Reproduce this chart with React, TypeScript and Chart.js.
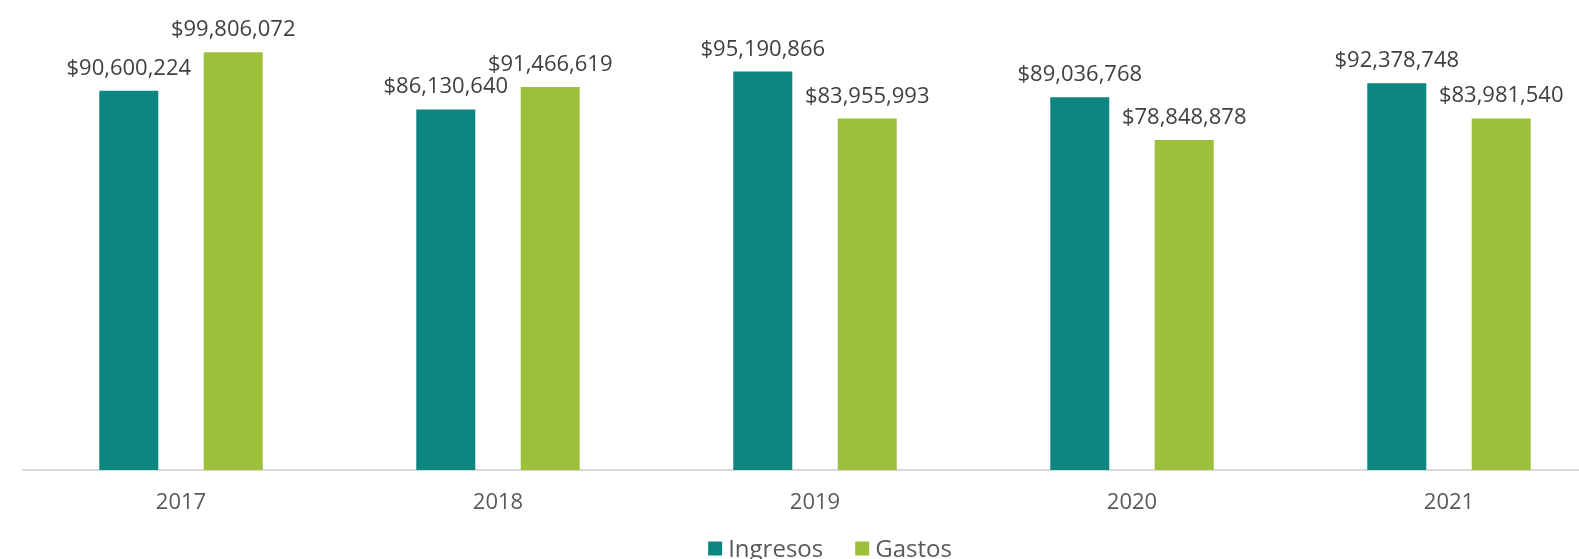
import React, { useEffect, useRef } from "react";
import { Chart, registerables } from "chart.js";

Chart.register(...registerables);

const categories = ["2017", "2018", "2019", "2020", "2021"];
const ingresos = [90600224, 86130640, 95190866, 89036768, 92378748];
const gastos = [99806072, 91466619, 83955993, 78848878, 83981540];
const seriesNames = ["Ingresos", "Gastos"];
const seriesColors = ["#0D8682", "#9CC03A"];

const FONT = "'Open Sans', 'DejaVu Sans', sans-serif";
const CW = 1660;
const CH = 580;

const fmt = (v: number) => "$" + v.toLocaleString("en-US");

const dataLabelPlugin = {
  id: "dataLabels",
  afterDatasetsDraw(chart: any) {
    const ctx = chart.ctx;
    ctx.save();
    ctx.font = `400 22px ${FONT}`;
    ctx.fillStyle = "#404040";
    ctx.textAlign = "center";
    ctx.textBaseline = "alphabetic";
    chart.data.datasets.forEach((ds: any, di: number) => {
      const meta = chart.getDatasetMeta(di);
      meta.data.forEach((bar: any, i: number) => {
        ctx.fillText(fmt(ds.data[i]), bar.x, bar.y - 16);
      });
    });
    ctx.restore();
  },
};

const legendPlugin = {
  id: "customLegend",
  afterDraw(chart: any) {
    const ctx = chart.ctx;
    ctx.save();
    ctx.font = `400 24px ${FONT}`;
    const box = 14;
    const gap = 6;
    const between = 32;
    const items = chart.data.datasets.map((ds: any) => ({
      label: ds.label,
      color: ds.backgroundColor,
      w: ctx.measureText(ds.label).width,
    }));
    let total = 0;
    items.forEach((it: any, i: number) => {
      total += box + gap + it.w + (i < items.length - 1 ? between : 0);
    });
    let x = chart.width / 2 - total / 2;
    const boxTop = 541.5;
    const baseline = 557;
    items.forEach((it: any) => {
      ctx.fillStyle = it.color;
      ctx.fillRect(x, boxTop, box, box);
      ctx.fillStyle = "#595959";
      ctx.textAlign = "left";
      ctx.textBaseline = "alphabetic";
      ctx.fillText(it.label, x + box + gap, baseline);
      x += box + gap + it.w + between;
    });
    ctx.restore();
  },
};

export default function App() {
  const ref = useRef<HTMLCanvasElement | null>(null);

  useEffect(() => {
    if (!ref.current) return;
    const chart = new Chart(ref.current, {
      type: "bar",
      data: {
        labels: categories,
        datasets: [
          {
            label: seriesNames[0],
            data: ingresos,
            backgroundColor: seriesColors[0],
            categoryPercentage: 0.659,
            barPercentage: 0.565,
          },
          {
            label: seriesNames[1],
            data: gastos,
            backgroundColor: seriesColors[1],
            categoryPercentage: 0.659,
            barPercentage: 0.565,
          },
        ],
      },
      options: {
        responsive: false,
        animation: false,
        devicePixelRatio: 1,
        layout: {
          padding: { left: 22.5, right: 52.5, top: 51.4, bottom: 43.6 },
        },
        plugins: {
          legend: { display: false },
          tooltip: { enabled: false },
        },
        scales: {
          x: {
            grid: { display: false, drawTicks: false },
            border: { display: true, color: "#D9D9D9", width: 2 },
            ticks: {
              color: "#595959",
              padding: 20,
              font: { family: FONT, size: 22 },
            },
          },
          y: {
            display: false,
            min: 0,
            max: 100000000,
          },
        },
      },
      plugins: [dataLabelPlugin, legendPlugin],
    });
    return () => chart.destroy();
  }, []);

  return (
    <div
      style={{
        position: "fixed",
        left: 0,
        top: 0,
        width: 1579,
        height: 559,
        overflow: "hidden",
        background: "#fff",
      }}
    >
      <canvas ref={ref} width={CW} height={CH} style={{ width: CW, height: CH, display: "block" }} />
    </div>
  );
}
